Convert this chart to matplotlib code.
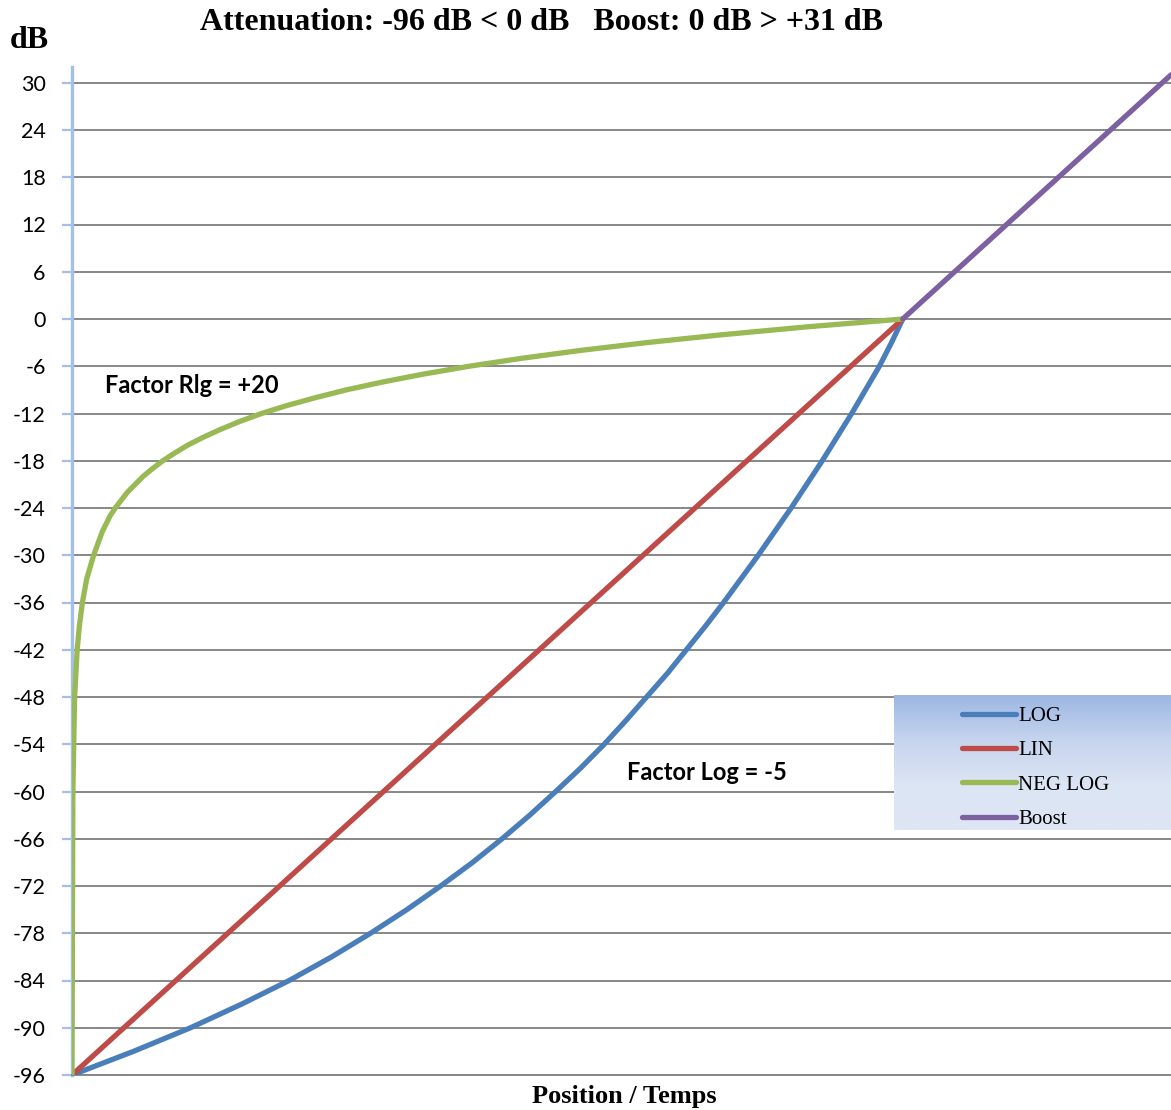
import numpy as np
import matplotlib
matplotlib.use("Agg")
import matplotlib.pyplot as plt
from matplotlib.colors import LinearSegmentedColormap

plt.rcParams["axes.unicode_minus"] = False

# Data (position steps, dB)
lin_pos = [0, 96]
lin_db = [-96, 0]

boost_pos = [96, 127]
boost_db = [0, 31]

log_pos = [0, 7.1, 13.7, 19.6, 25.1, 30.0, 34.5, 38.7, 42.6, 46.3, 49.7, 52.9,
           55.9, 58.8, 61.5, 64.0, 66.4, 68.8, 71.0, 73.2, 75.3, 77.3, 79.3,
           81.2, 83.1, 84.9, 86.7, 88.4, 90.1, 91.7, 93.3, 94.7, 96]
log_db = [-96, -93, -90, -87, -84, -81, -78, -75, -72, -69, -66, -63,
          -60, -57, -54, -51, -48, -45, -42, -39, -36, -33, -30,
          -27, -24, -21, -18, -15, -12, -9, -6, -3, 0]

neglog_pos = [0, 0.1, 0.3, 0.6, 0.85, 1.2, 1.7, 2.5, 3.5, 4.4, 5.0, 5.7,
              6.4, 7.3, 8.2, 9.3, 10.5, 11.9, 13.4, 15.2, 17.2, 19.4, 21.9,
              24.8, 28.1, 31.7, 35.9, 40.6, 45.9, 51.9, 58.7, 66.4, 75.1,
              84.9, 96]
neglog_db = [-96, -60, -48, -42, -39, -36, -33, -30, -27, -25, -24, -23,
             -22, -21, -20, -19, -18, -17, -16, -15, -14, -13, -12,
             -11, -10, -9, -8, -7, -6, -5, -4, -3, -2,
             -1, 0]

series_names = ["LOG", "LIN", "NEG LOG", "Boost"]
series_colors = ["#4A7EBB", "#BE4B48", "#98B954", "#7D60A0"]

y_ticks = list(range(-96, 31, 6))

W, H = 1171, 1110
fig = plt.figure(figsize=(W / 100, H / 100), dpi=100)
ax = fig.add_axes([72 / W, 1 - 1075 / H, (W - 72) / W, (1075 - 67) / H])

lw = 3.8
ax.plot(log_pos, log_db, color=series_colors[0], lw=lw, solid_capstyle="round",
        solid_joinstyle="round", label=series_names[0], zorder=3)
ax.plot(lin_pos, lin_db, color=series_colors[1], lw=lw, solid_capstyle="round",
        label=series_names[1], zorder=4)
ax.plot(neglog_pos, neglog_db, color=series_colors[2], lw=lw, solid_capstyle="round",
        solid_joinstyle="round", label=series_names[2], zorder=5)
ax.plot(boost_pos, boost_db, color=series_colors[3], lw=lw, solid_capstyle="round",
        label=series_names[3], zorder=6)

ax.set_xlim(0, 127)
ax.set_ylim(-96, 32)
ax.set_yticks(y_ticks)
ax.set_xticks([])
ax.yaxis.grid(True, color="#878787", lw=1.4)
ax.set_axisbelow(True)

for s in ["top", "right"]:
    ax.spines[s].set_visible(False)
ax.spines["left"].set_color("#A3BFEA")
ax.spines["left"].set_linewidth(2.4)
ax.spines["left"].set_zorder(2)
ax.spines["bottom"].set_color("#878787")
ax.spines["bottom"].set_linewidth(1.4)

ax.tick_params(axis="y", length=7, width=1.6, color="#A3BFEA", pad=12,
               labelsize=15.5)
for t in ax.get_yticklabels():
    t.set_fontfamily("Lato")

# annotations
ax.text(3.8, -8.4, "Factor Rlg = +20", fontfamily="Lato", fontweight="bold",
        fontsize=17, va="center", ha="left", zorder=7)
ax.text(64.1, -57.65, "Factor Log = -5", fontfamily="Lato", fontweight="bold",
        fontsize=17, va="center", ha="left", zorder=7)

# titles
serif = "Liberation Serif"
fig.text(541 / W, 1 - 23 / H, "Attenuation: -96 dB < 0 dB   Boost: 0 dB > +31 dB",
         fontfamily=serif, fontweight="bold", fontsize=23, ha="center", va="center")
fig.text(29 / W, 1 - 41 / H, "dB", fontfamily=serif, fontweight="bold",
         fontsize=23, ha="center", va="center")
fig.text(624 / W, 1 - 1097 / H, "Position / Temps", fontfamily=serif,
         fontweight="bold", fontsize=19, ha="center", va="center")

# legend with gradient background
lax = fig.add_axes([894 / W, 1 - 830 / H, 277 / W, 135 / H], zorder=10)
grad_cmap = LinearSegmentedColormap.from_list("g", ["#9DB7E3", "#C6D4EE", "#DCE5F4", "#DEE6F4"])
lax.imshow(np.linspace(0, 1, 100).reshape(-1, 1), aspect="auto", cmap=grad_cmap,
           extent=[0, 1, 0, 1])
lax.set_xlim(0, 1)
lax.set_ylim(0, 1)
lax.axis("off")
handles, labels = ax.get_legend_handles_labels()
leg = lax.legend(handles, labels, loc="upper left", bbox_to_anchor=(0.214, 0.975),
                 frameon=False, prop={"family": serif, "size": 15},
                 handlelength=2.6, handletextpad=0.12, labelspacing=0.7,
                 borderaxespad=0)

fig.savefig("out.png", dpi=100)
